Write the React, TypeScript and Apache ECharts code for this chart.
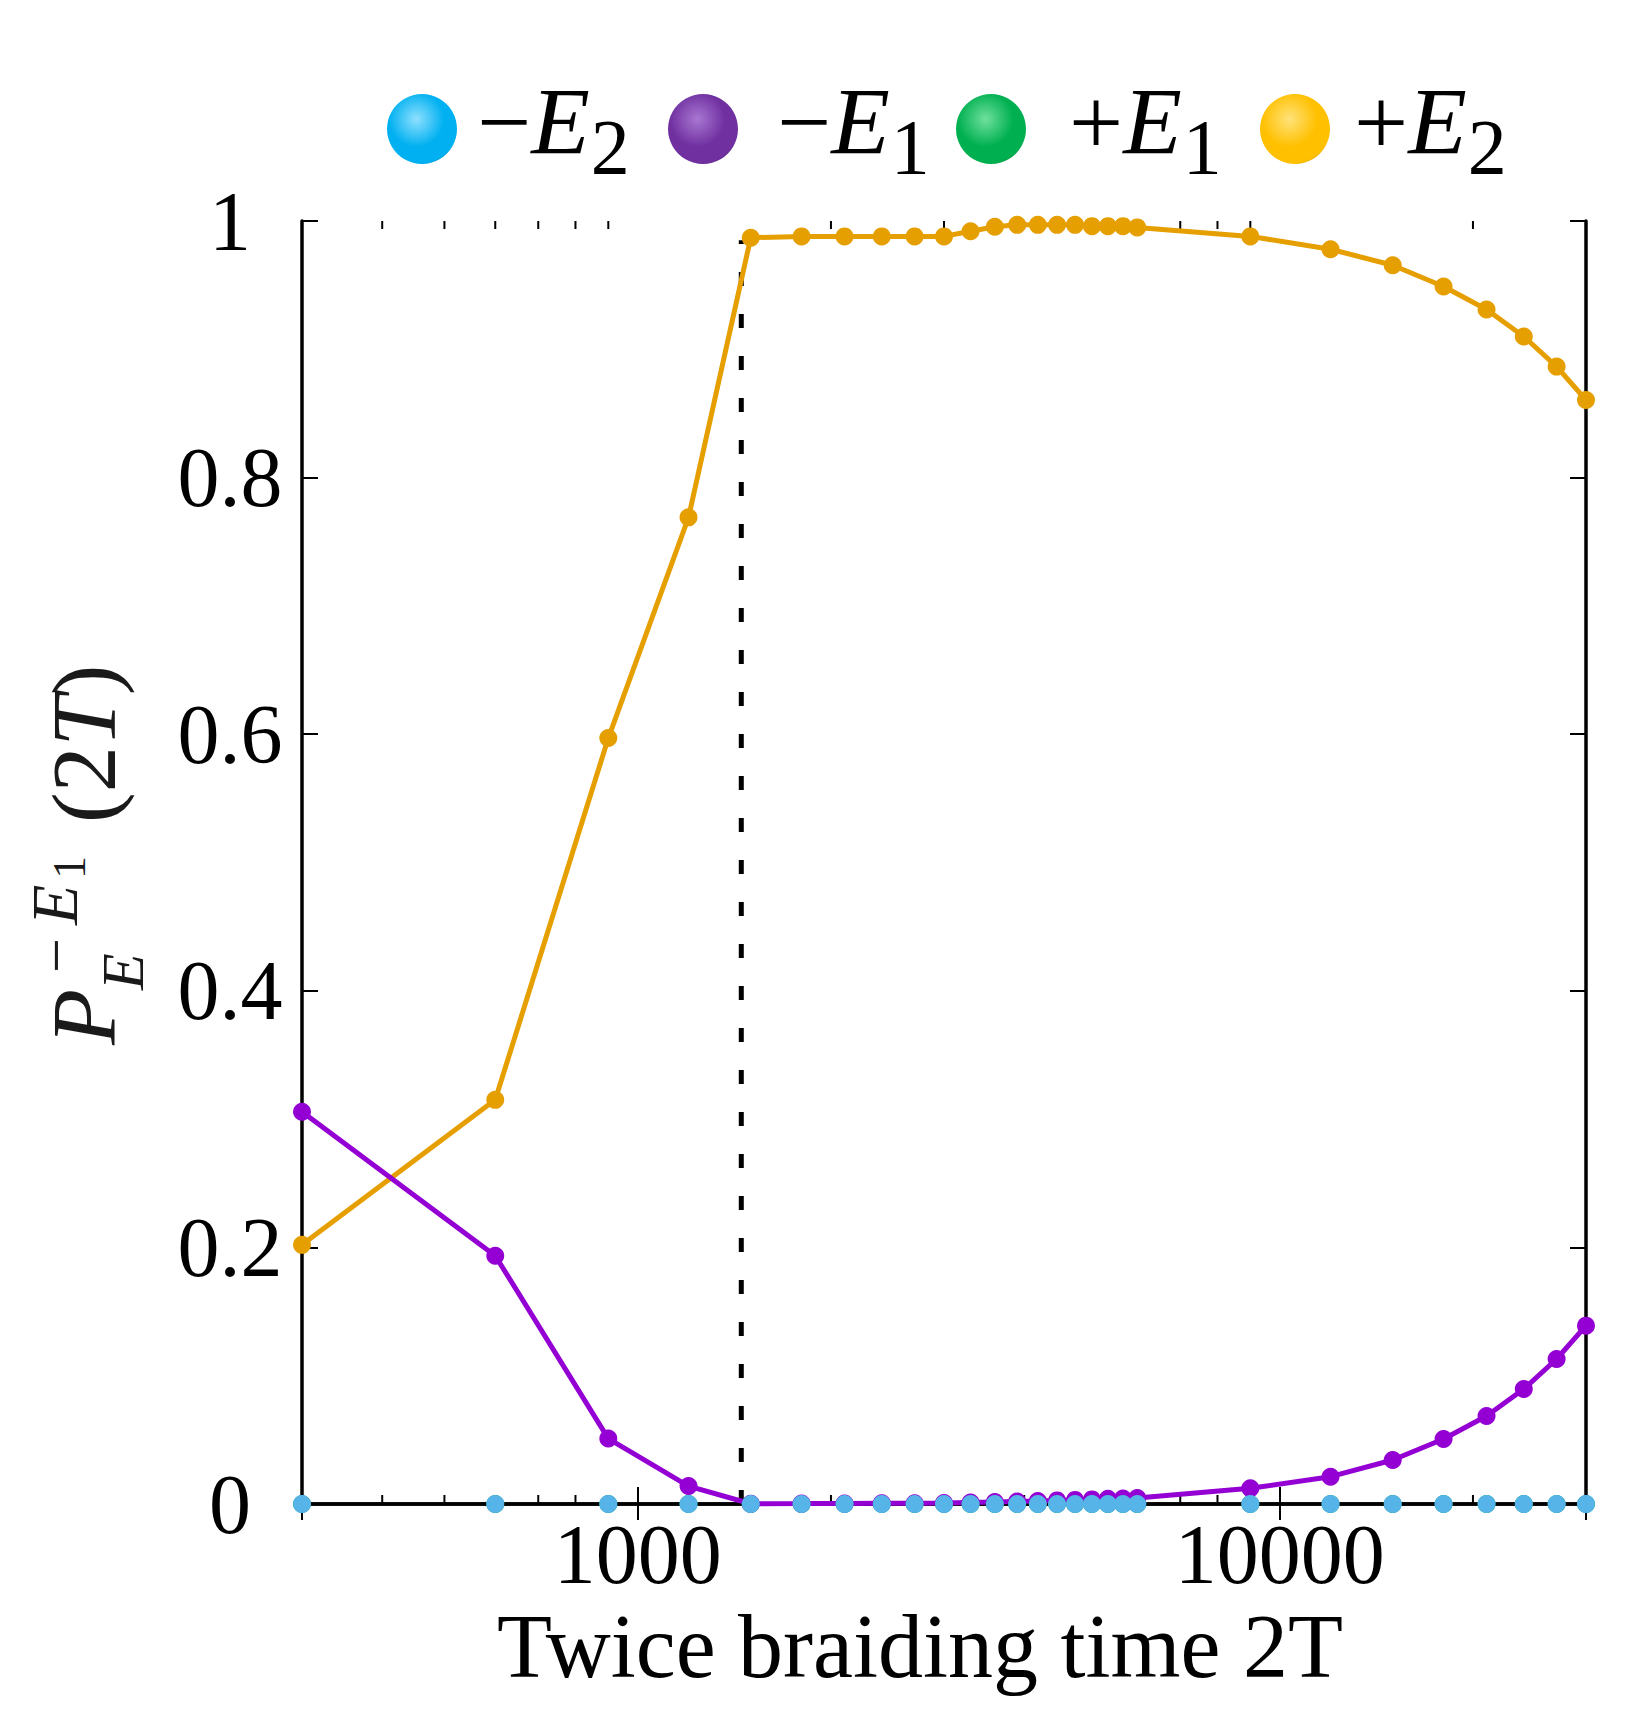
import { useEffect, useRef } from 'react';
import * as echarts from 'echarts';

// ---------- data ----------
const xValues = [300, 600, 900, 1200, 1500, 1800, 2100, 2400, 2700, 3000, 3300, 3600, 3900, 4200, 4500, 4800, 5100, 5400, 5700, 6000, 9000, 12000, 15000, 18000, 21000, 24000, 27000, 30000];
const minusE2Values = [0, 0, 0, 0, 0, 0, 0, 0, 0, 0, 0, 0, 0, 0, 0, 0, 0, 0, 0, 0, 0, 0, 0, 0, 0, 0, 0, 0];
const minusE1Values = [0.3057, 0.1935, 0.051, 0.014, 0.0002, 0.0003, 0.0004, 0.0005, 0.0006, 0.0008, 0.0012, 0.0015, 0.002, 0.0024, 0.0028, 0.0032, 0.0036, 0.004, 0.0043, 0.0047, 0.0122, 0.0213, 0.0343, 0.0507, 0.0686, 0.0896, 0.113, 0.139];
const plusE1Values = [0, 0, 0, 0, 0, 0, 0, 0, 0, 0, 0, 0, 0, 0, 0, 0, 0, 0, 0, 0, 0, 0, 0, 0, 0, 0, 0, 0];
const plusE2Values = [0.202, 0.315, 0.597, 0.769, 0.987, 0.988, 0.988, 0.988, 0.988, 0.988, 0.992, 0.9955, 0.997, 0.997, 0.997, 0.997, 0.996, 0.996, 0.996, 0.995, 0.988, 0.978, 0.9655, 0.949, 0.931, 0.91, 0.8865, 0.8605];
const minorTickValues = [400, 500, 600, 700, 800, 900, 2000, 3000, 4000, 5000, 6000, 7000, 8000, 9000, 20000];
const dashedLine = [[1450, 0], [1450, 0.985]];
const seriesNames = ['−E2', '−E1', '+E1', '+E2'];
const xMin = 300;
const xMax = 30000;
const yTickInterval = 0.2;

const FONT = 'Liberation Serif';

const pairs = (ys: number[]) => xValues.map((x, i) => [x, ys[i]]);

const ballColors = [
  ['#8fe0ff', '#00b0f0', '#0a7fb0'],
  ['#a877d2', '#7030a0', '#451a66'],
  ['#6fe09e', '#00b050', '#007332'],
  ['#ffe27a', '#ffc000', '#b88a00'],
];
const ball = (c: string[]) => ({
  type: 'radial', x: 0.42, y: 0.36, r: 0.72,
  colorStops: [
    { offset: 0, color: c[0] },
    { offset: 0.55, color: c[1] },
    { offset: 0.88, color: c[1] },
    { offset: 1, color: c[2] },
  ],
});
const legendLeft = [387, 668, 956, 1260];
const legendPad = [15, 34, 38, 19];

const legendRich = (pad: number) => ({
  op: { fontFamily: FONT, fontSize: 96, lineHeight: 100, verticalAlign: 'top', color: '#000', padding: [0, 0, 0, pad] },
  e: { fontFamily: FONT, fontSize: 96, lineHeight: 100, verticalAlign: 'top', fontStyle: 'italic', color: '#000' },
  s: { fontFamily: FONT, fontSize: 78, lineHeight: 112, verticalAlign: 'bottom', color: '#000', padding: [0, 0, 0, 1] },
});

// y-axis name pieces (local text frame: u along text, w = baseline offset downward)
const yNameParts = [
  { text: 'P', u: 0, w: 0, size: 92, italic: true },
  { text: 'E', u: 55, w: 28, size: 60, italic: true },
  { text: '−', u: 72, w: -38, size: 62, italic: false },
  { text: 'E', u: 120, w: -38, size: 66, italic: true },
  { text: '1', u: 166, w: -30, size: 46, italic: false },
];

function buildOption() {
  const blackAxis = { lineStyle: { color: '#000', width: 3.5 } };
  const yNameChildren: any[] = yNameParts.map((p) => ({
    type: 'text',
    x: p.u,
    y: p.w - 0.3375 * p.size,
    style: {
      text: p.text,
      fontFamily: FONT,
      fontSize: p.size,
      fontStyle: p.italic ? 'italic' : 'normal',
      fill: '#1a1a1a',
      align: 'left',
      verticalAlign: 'middle',
    },
  }));
  yNameChildren.push({
    type: 'text',
    x: 222,
    y: -0.3375 * 92,
    style: {
      text: '{n|(2}{i|T}{n|)}',
      fontFamily: FONT,
      fontSize: 92,
      fill: '#1a1a1a',
      align: 'left',
      verticalAlign: 'middle',
      rich: {
        n: { fontFamily: FONT, fontSize: 92, fill: '#1a1a1a' },
        i: { fontFamily: FONT, fontSize: 92, fontStyle: 'italic', fill: '#1a1a1a' },
      },
    },
  });

  return {
    animation: false,
    backgroundColor: '#fff',
    grid: { left: 302, top: 221, width: 1284, height: 1283, show: false },
    legend: seriesNames.map((n, i) => ({
      data: [{ name: n, icon: 'circle', itemStyle: { color: ball(ballColors[i]), borderWidth: 0 } }],
      left: legendLeft[i],
      top: 73,
      padding: 0,
      itemWidth: 70,
      itemHeight: 70,
      selectedMode: false,
      formatter: (name: string) => `{op|${name[0]}}{e|E}{s|${name[2]}}`,
      textStyle: { rich: legendRich(legendPad[i]) },
    })),
    xAxis: [
      {
        type: 'log',
        logBase: 10,
        min: xMin,
        max: xMax,
        position: 'bottom',
        axisLine: blackAxis,
        axisTick: { inside: true, length: 17, lineStyle: { color: '#000', width: 2 } },
        splitLine: { show: false },
        axisLabel: {
          margin: 8,
          fontFamily: FONT,
          fontSize: 84,
          color: '#000',
          formatter: (v: number) => {
            const l = Math.log10(v);
            return Math.abs(l - Math.round(l)) < 1e-6 ? String(Math.round(v)) : '';
          },
        },
        name: 'Twice braiding time 2T',
        nameLocation: 'middle',
        nameGap: 97,
        nameTextStyle: { fontFamily: FONT, fontSize: 90, color: '#000', padding: [0, 48, 0, 0] },
      },
      {
        type: 'log',
        logBase: 10,
        min: xMin,
        max: xMax,
        position: 'top',
        axisLine: blackAxis,
        axisTick: { inside: true, length: 16, lineStyle: { color: '#000', width: 2 } },
        axisLabel: { show: false },
        splitLine: { show: false },
      },
    ],
    yAxis: [
      {
        type: 'value',
        min: 0,
        max: 1,
        interval: yTickInterval,
        position: 'left',
        axisLine: { show: true, ...blackAxis },
        axisTick: { show: true, inside: true, length: 16, lineStyle: { color: '#000', width: 2 } },
        splitLine: { show: false },
        axisLabel: { margin: 72, align: 'center', fontFamily: FONT, fontSize: 84, color: '#000' },
      },
      {
        type: 'value',
        min: 0,
        max: 1,
        interval: yTickInterval,
        position: 'right',
        axisLine: { show: true, ...blackAxis },
        axisTick: { show: true, inside: true, length: 16, lineStyle: { color: '#000', width: 2 } },
        splitLine: { show: false },
        axisLabel: { show: false },
      },
    ],
    graphic: [
      {
        type: 'group',
        x: 115,
        y: 1045,
        rotation: Math.PI / 2,
        children: yNameChildren,
      },
    ],
    series: [
      {
        type: 'custom',
        name: 'minorTicks',
        silent: true,
        clip: false,
        data: minorTickValues.map((v) => [v, 0]),
        renderItem: (_p: any, api: any) => {
          const b = api.coord([api.value(0), 0]);
          const t = api.coord([api.value(0), 1]);
          return {
            type: 'group',
            children: [
              { type: 'line', shape: { x1: b[0], y1: b[1], x2: b[0], y2: b[1] - 9 }, style: { stroke: '#000', lineWidth: 2 } },
              { type: 'line', shape: { x1: t[0], y1: t[1], x2: t[0], y2: t[1] + 8 }, style: { stroke: '#000', lineWidth: 2 } },
            ],
          };
        },
      },
      {
        type: 'line',
        name: 'dashed',
        data: dashedLine,
        symbol: 'none',
        silent: true,
        lineStyle: { color: '#000', width: 5, type: [14, 28], cap: 'butt' },
      },
      {
        type: 'line',
        name: seriesNames[2],
        data: pairs(plusE1Values),
        symbol: 'circle',
        symbolSize: 18,
        clip: false,
        itemStyle: { color: '#009E73' },
        lineStyle: { color: '#009E73', width: 0, opacity: 0 },
      },
      {
        type: 'line',
        name: seriesNames[3],
        data: pairs(plusE2Values),
        symbol: 'circle',
        symbolSize: 18,
        clip: false,
        itemStyle: { color: '#E69F00' },
        lineStyle: { color: '#E69F00', width: 5 },
      },
      {
        type: 'line',
        name: seriesNames[1],
        data: pairs(minusE1Values),
        symbol: 'circle',
        symbolSize: 18,
        clip: false,
        itemStyle: { color: '#9400D3' },
        lineStyle: { color: '#9400D3', width: 5 },
      },
      {
        type: 'line',
        name: seriesNames[0],
        data: pairs(minusE2Values),
        symbol: 'circle',
        symbolSize: 18,
        clip: false,
        itemStyle: { color: '#56B4E9' },
        lineStyle: { color: '#56B4E9', width: 0, opacity: 0 },
      },
    ],
  };
}

export default function App() {
  const ref = useRef<HTMLDivElement>(null);
  useEffect(() => {
    document.body.style.margin = '0';
    const chart = echarts.init(ref.current!, null, { renderer: 'svg' });
    chart.setOption(buildOption() as any);
    return () => chart.dispose();
  }, []);
  return <div ref={ref} style={{ width: 1636, height: 1722 }} />;
}
